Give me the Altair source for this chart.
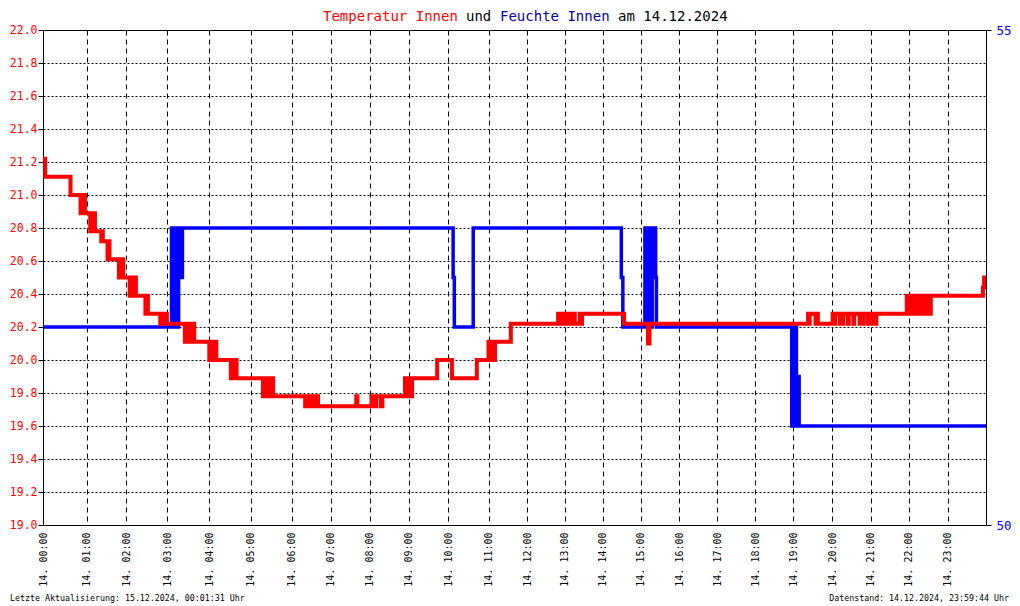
import altair as alt
import pandas as pd

# ---- data ----
temp_hours = [0.00, 0.05, 0.63,
              0.86, 0.89, 0.92, 0.94, 0.96,
              1.09, 1.12, 1.15, 1.18, 1.21,
              1.37, 1.39, 1.41,
              1.53, 1.55, 1.58,
              1.82, 1.85, 1.88, 1.91, 1.93,
              2.09, 2.12, 2.15, 2.18, 2.21, 2.23, 2.24,
              2.47, 2.50, 2.53,
              2.83, 2.86, 2.88, 2.91, 2.94, 2.97, 2.99,
              3.42, 3.45, 3.47, 3.50, 3.53, 3.56, 3.59, 3.61, 3.64,
              4.00, 4.03, 4.06, 4.08, 4.11, 4.14, 4.17,
              4.52, 4.55, 4.58, 4.60, 4.66,
              5.30, 5.33, 5.36, 5.39, 5.42, 5.46, 5.50, 5.53, 5.55,
              6.35, 6.38, 6.41, 6.44, 6.48, 6.52, 6.56, 6.59, 6.63, 6.66, 6.68,
              7.66, 7.69,
              8.05, 8.08, 8.11, 8.14, 8.17, 8.29, 8.33,
              8.91, 8.94, 8.97, 9.00, 9.03, 9.06, 9.09,
              9.72, 10.09, 10.71,
              11.00, 11.02, 11.05, 11.09, 11.12, 11.15, 11.17,
              11.58,
              12.83, 12.86, 12.90, 12.93, 13.03, 13.06, 13.11, 13.14, 13.17,
              13.20, 13.24, 13.27, 13.40, 13.43, 13.46,
              14.56, 15.19, 15.23,
              19.38, 19.40, 19.42, 19.57, 19.59, 19.63,
              20.01, 20.04, 20.07, 20.19, 20.28, 20.40, 20.43, 20.55, 20.57,
              20.71, 20.74, 20.79, 20.81, 20.92, 20.94, 21.04, 21.06, 21.11, 21.15,
              21.95, 21.98, 22.01, 22.05, 22.09, 22.13, 22.18, 22.21, 22.25,
              22.30, 22.34, 22.38, 22.42, 22.46, 22.50, 22.54, 22.57,
              23.92, 23.95, 24.00]
temp_values = [21.22, 21.11, 21.00,
               20.89, 21.00, 20.89, 21.00, 20.89,
               20.78, 20.89, 20.78, 20.89, 20.78,
               20.72, 20.78, 20.72,
               20.61, 20.72, 20.61,
               20.50, 20.61, 20.50, 20.61, 20.50,
               20.39, 20.50, 20.39, 20.50, 20.39, 20.50, 20.39,
               20.28, 20.39, 20.28,
               20.22, 20.28, 20.22, 20.28, 20.22, 20.28, 20.22,
               20.11, 20.22, 20.11, 20.22, 20.11, 20.22, 20.11, 20.22, 20.11,
               20.00, 20.11, 20.00, 20.11, 20.00, 20.11, 20.00,
               19.89, 20.00, 19.89, 20.00, 19.89,
               19.78, 19.89, 19.78, 19.89, 19.78, 19.89, 19.78, 19.89, 19.78,
               19.72, 19.78, 19.72, 19.78, 19.72, 19.78, 19.72, 19.78, 19.72, 19.78, 19.72,
               19.78, 19.72,
               19.78, 19.72, 19.78, 19.72, 19.78, 19.72, 19.78,
               19.89, 19.78, 19.89, 19.78, 19.89, 19.78, 19.89,
               20.00, 19.89, 20.00,
               20.11, 20.00, 20.11, 20.00, 20.11, 20.00, 20.11,
               20.22,
               20.28, 20.22, 20.28, 20.22, 20.28, 20.22, 20.28, 20.22, 20.28,
               20.22, 20.28, 20.22, 20.28, 20.22, 20.28,
               20.22, 20.10, 20.22,
               20.28, 20.22, 20.28, 20.22, 20.28, 20.22,
               20.28, 20.22, 20.28, 20.22, 20.28, 20.22, 20.28, 20.22, 20.28,
               20.22, 20.28, 20.22, 20.28, 20.22, 20.28, 20.22, 20.28, 20.22, 20.28,
               20.39, 20.28, 20.39, 20.28, 20.39, 20.28, 20.39, 20.28, 20.39,
               20.28, 20.39, 20.28, 20.39, 20.28, 20.39, 20.28, 20.39,
               20.44, 20.50, 20.50]

hum_hours = [0.00, 3.10, 3.13, 3.16, 3.18, 3.21, 3.24, 3.27, 3.30, 3.32, 3.34, 3.36,
             10.12, 10.15, 10.62, 14.49, 14.53,
             15.11, 15.14, 15.17, 15.20, 15.23, 15.27, 15.30, 15.33, 15.36, 15.39, 15.41,
             18.96, 18.99, 19.02, 19.05, 19.08, 19.10, 19.12, 19.14, 19.15, 24.00]
hum_values = [52, 53, 52, 53, 52, 53, 52, 53, 52.5, 53, 52.5, 53,
              52.5, 52, 53, 52.5, 52,
              53, 52, 53, 52, 53, 52, 53, 52.5, 53, 52.5, 52,
              51, 52, 51, 52, 51, 51.5, 51, 51.5, 51, 51]

# hour gridlines of the reference are not evenly spaced: pixel offset of each full hour
hour_ticks = list(range(24))
hour_domain = list(range(25))
hour_pixels = [0, 43.7, 83, 124.3, 166.3, 207.7, 248.5, 287.5, 326.5, 365.5,
               405.3, 445.5, 484, 521.5, 559.7, 597.7, 636, 674, 712, 750.3,
               789.3, 827.7, 865.7, 904.5, 943]

temp_ticks = [19.0, 19.2, 19.4, 19.6, 19.8, 20.0, 20.2, 20.4, 20.6, 20.8,
              21.0, 21.2, 21.4, 21.6, 21.8, 22.0]
hum_ticks = [50, 55]

title_parts = ["Temperatur Innen", "und", "Feuchte Innen", "am 14.12.2024"]
title_colors = ["#ff0000", "#000000", "#0000aa", "#000000"]
title_x = [280, 423, 457, 575]

footer_left = "Letzte Aktualisierung: 15.12.2024, 00:01:31 Uhr"
footer_right = "Datenstand: 14.12.2024, 23:59:44 Uhr"

FONT = "DejaVu Sans Mono"

temp_df = pd.DataFrame({"h": temp_hours, "t": temp_values})
hum_df = pd.DataFrame({"h": hum_hours, "f": hum_values})
one = pd.DataFrame({"k": [0]})

x_enc = alt.X(
    "h:Q",
    scale=alt.Scale(domain=hour_domain, range=hour_pixels, nice=False, zero=False),
    axis=alt.Axis(
        values=hour_ticks,
        labelExpr="'14. ' + (datum.value < 10 ? '0' : '') + datum.value + ':00'",
        labelAngle=-90, labelFont=FONT, labelFontSize=10, labelColor="black",
        labelFlush=False, labelOverlap=False, labelBound=False,
        ticks=False, labelPadding=7,
        grid=True, gridDash=[5, 4], gridColor="black", gridOpacity=1, gridWidth=1,
        domainColor="black", domainWidth=1, title=None,
    ),
)

hum_line = alt.Chart(hum_df).mark_line(
    interpolate="step-after", color="#0000ff", strokeWidth=3.5
).encode(
    x=x_enc,
    y=alt.Y(
        "f:Q",
        scale=alt.Scale(domain=[50, 55], nice=False, zero=False),
        axis=alt.Axis(
            orient="right", values=hum_ticks, format="d",
            labelColor="#0000ff", labelFont=FONT, labelFontSize=12.5,
            labelPadding=5, tickSize=5, tickColor="black", domainColor="black",
            grid=False, title=None, labelOverlap=False,
        ),
    ),
)

temp_line = alt.Chart(temp_df).mark_line(
    interpolate="step-after", color="#ff0000", strokeWidth=4
).encode(
    x=x_enc,
    y=alt.Y(
        "t:Q",
        scale=alt.Scale(domain=[19, 22], nice=False, zero=False),
        axis=alt.Axis(
            orient="left", values=temp_ticks, format=".1f",
            labelColor="#ff0000", labelFont=FONT, labelFontSize=11.5,
            labelPadding=1, tickSize=5, tickColor="black", domainColor="black",
            grid=True, gridDash=[2, 2], gridColor="black", gridOpacity=1,
            title=None, labelOverlap=False, labelFlush=False,
        ),
    ),
)

texts = []
for part, col, xp in zip(title_parts, title_colors, title_x):
    texts.append(
        alt.Chart(one).mark_text(
            font=FONT, fontSize=14, align="left", baseline="alphabetic", color=col
        ).encode(x=alt.value(xp), y=alt.value(-9), text=alt.value(part))
    )
texts.append(
    alt.Chart(one).mark_text(
        font=FONT, fontSize=8.3, align="left", baseline="alphabetic", color="black"
    ).encode(x=alt.value(-33), y=alt.value(571), text=alt.value(footer_left))
)
texts.append(
    alt.Chart(one).mark_text(
        font=FONT, fontSize=8.3, align="right", baseline="alphabetic", color="black"
    ).encode(x=alt.value(966), y=alt.value(571), text=alt.value(footer_right))
)

chart = (
    alt.layer(hum_line, temp_line, *texts)
    .resolve_scale(y="independent")
    .properties(
        width=943, height=495,
        padding={"left": 35, "top": 22, "right": 26, "bottom": 80},
        autosize=alt.AutoSizeParams(type="none"),
        background="white",
    )
    .configure_view(stroke="black", strokeWidth=1)
)

chart.save("out.html", embed_options={"renderer": "svg", "actions": False})
